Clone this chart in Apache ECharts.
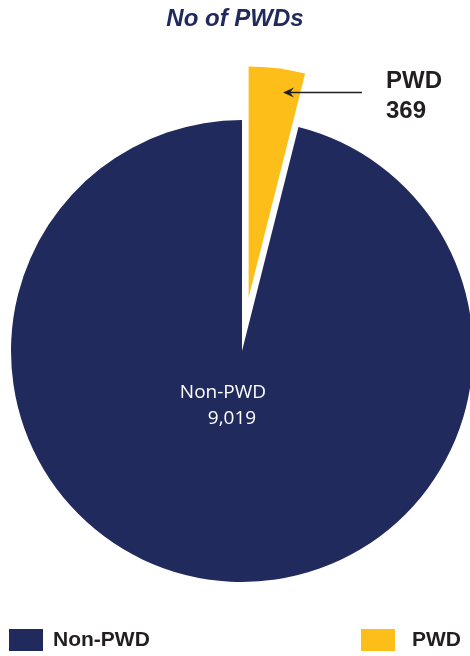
<!DOCTYPE html>
<html>
<head>
<meta charset="utf-8">
<title>No of PWDs</title>
<script src="https://cdn.jsdelivr.net/npm/echarts@6/dist/echarts.min.js"></script>
<style>
  html, body { margin: 0; padding: 0; background: #ffffff; }
  #chart { width: 470px; height: 656px; }
</style>
</head>
<body>
<div id="chart"></div>
<script>
// Employee counts by disability status
const categories = ['PWD', 'Non-PWD'];
const counts = [369, 9019];
const legendOrder = ['Non-PWD', 'PWD'];

const NAVY = '#212a5c';
const GOLD = '#fdbe1a';
const INK = '#231f20';

const SELECTED_OFFSET = 54;

const chart = echarts.init(document.getElementById('chart'), null, { renderer: 'canvas' });

const pieData = categories.map((name, i) => {
  const item = { name: name, value: counts[i] };
  if (name === 'PWD') {
    item.selected = true;
    item.itemStyle = { color: GOLD };
    item.label = {
      show: true,
      position: 'inside',
      formatter: p => p.name + '\n' + p.value.toLocaleString('en-US'),
      color: INK,
      fontFamily: 'Liberation Sans, Arial, sans-serif',
      fontWeight: 'bold',
      fontSize: 24,
      lineHeight: 30
    };
    item.labelLine = { show: false };
  } else {
    item.itemStyle = { color: NAVY };
    item.label = {
      show: true,
      position: 'center',
      formatter: p => '{n|' + p.name + '}\n{v|' + p.value.toLocaleString('en-US') + '}',
      rich: {
        n: { color: '#ffffff', fontFamily: 'Open Sans, sans-serif', fontSize: 19, lineHeight: 26 },
        v: { color: '#ffffff', fontFamily: 'Open Sans, sans-serif', fontSize: 19, lineHeight: 26, padding: [0, 0, 0, 18] }
      }
    };
  }
  return item;
});

// The selected slice (and its label) is pushed outward along its mid-angle
const total = counts.reduce((a, b) => a + b, 0);
const pwdMid = (counts[0] / total) * Math.PI; // half of the slice sweep, measured from 12 o'clock
const shiftX = SELECTED_OFFSET * Math.sin(pwdMid);
const shiftY = -SELECTED_OFFSET * Math.cos(pwdMid);

const legendText = {
  color: INK,
  fontFamily: 'Liberation Sans, Arial, sans-serif',
  fontWeight: 'bold',
  fontSize: 21,
  padding: [4, 0, 0, 5]
};

// Callout for the small slice: label block sits to the right, arrow points back at the slice
const calloutLeft = 386;
const calloutMid = 96;

chart.setOption({
  animation: false,
  title: {
    text: 'No of PWDs',
    left: 'center',
    top: 2,
    textStyle: {
      color: NAVY,
      fontFamily: 'Liberation Sans, Arial, sans-serif',
      fontStyle: 'italic',
      fontWeight: 'bold',
      fontSize: 24
    }
  },
  legend: [
    {
      data: [legendOrder[0]],
      left: 9, top: 629, padding: 0,
      icon: 'rect', itemWidth: 34, itemHeight: 22,
      selectedMode: false,
      textStyle: legendText
    },
    {
      data: [legendOrder[1]],
      left: 361, top: 629, padding: 0,
      icon: 'rect', itemWidth: 34, itemHeight: 22,
      selectedMode: false,
      textStyle: Object.assign({}, legendText, { padding: [4, 0, 0, 12] })
    }
  ],
  series: [{
    type: 'pie',
    center: [242, 351],
    radius: 231,
    startAngle: 90,
    clockwise: true,
    selectedMode: 'single',
    selectedOffset: SELECTED_OFFSET,
    avoidLabelOverlap: false,
    emphasis: { disabled: true },
    labelLayout: function (params) {
      if (params.dataIndex === 0) {
        const r = params.labelRect;
        return {
          align: 'left',
          dx: calloutLeft - (r.x + r.width / 2) - shiftX,
          dy: calloutMid - (r.y + r.height / 2) - shiftY
        };
      }
      return { dx: -19, dy: 55 };
    },
    data: pieData
  }],
  graphic: [{
    type: 'group',
    silent: true,
    z: 100,
    children: [
      { type: 'line', z: 100, shape: { x1: 290, y1: 92.5, x2: 362, y2: 92.5 }, style: { stroke: INK, lineWidth: 1.3 } },
      { type: 'polygon', z: 100, shape: { points: [[283, 92.5], [294, 87.5], [290, 92.5], [294, 97.5]] }, style: { fill: INK } }
    ]
  }]
});
</script>
</body>
</html>
